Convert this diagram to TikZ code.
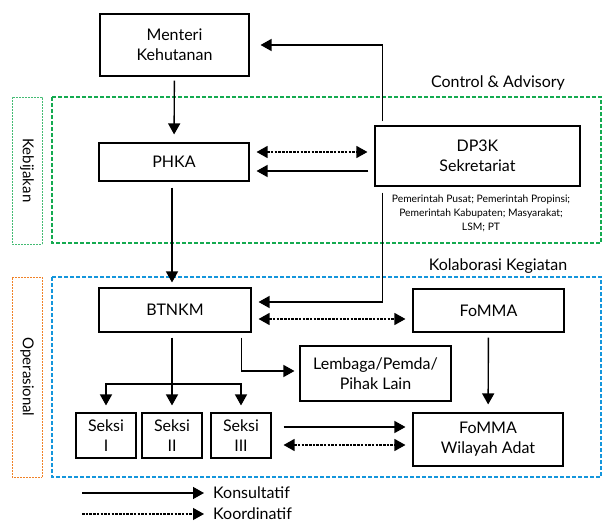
\documentclass[tikz,border=0pt]{standalone}
\usepackage{fontspec}
\setmainfont{Lato}
\usepackage{xcolor}
\usetikzlibrary{arrows.meta}
\definecolor{kebijakangreen}{RGB}{20,170,80}
\definecolor{kolabblue}{RGB}{20,150,220}
\definecolor{operorange}{RGB}{240,130,40}
\tikzset{
  font=\fontsize{16}{20}\selectfont,          % main box text
  unit/.style             = {rectangle, draw, line width=1.1pt, align=center,
                             inner sep=2pt},
  seksi/.style            = {unit, minimum width=60pt, minimum height=45pt},
  tag/.style              = {draw, rotate=-90, line width=0.9pt,
                             dash pattern=on 2pt off 1pt,
                             minimum height=30pt, inner sep=0pt},
  konsul/.style           = {line width=1.4pt,
                             -{Triangle[length=11pt,width=12pt]},
                             shorten >=7pt, shorten <=6pt},
  koord/.style            = {line width=1.2pt, dash pattern=on 2.5pt off 1.2pt,
                             {Triangle[length=11pt,width=12pt]}-{Triangle[length=11pt,width=12pt]},
                             shorten >=7pt, shorten <=7pt}
}

\begin{document}
\begin{tikzpicture}[x=1pt, y=-1pt]
  \useasboundingbox (0,0) rectangle (603,524);
  % areas
  \draw[kebijakangreen, line width=1.2pt, dash pattern=on 4pt off 2pt]
    (52,97) rectangle (601,243);
  \draw[kolabblue, line width=1.2pt, dash pattern=on 4pt off 2pt]
    (52,277) rectangle (601,477);
  \node (control) at (498,83) {Control \& Advisory};
  \node (kolab) at (498,266) {Kolaborasi Kegiatan};
  \node[tag, draw=kebijakangreen!80, minimum width=147pt,
        font=\fontsize{15}{18}\selectfont] (kebijakan) at (27,170.5) {Kebijakan};
  \node[tag, draw=operorange, minimum width=200pt,
        font=\fontsize{15}{18}\selectfont] (operasional) at (27,377) {Operasional};

  % units
  \node[unit, minimum width=149pt, minimum height=62pt] (menteri) at (174.5,45) {Menteri\\Kehutanan};
  \node[unit, minimum width=150pt, minimum height=38pt] (phka) at (174,162) {PHKA};
  \node[unit, minimum width=205pt, minimum height=60pt] (dp3k) at (477.5,156) {DP3K\\Sekretariat};
  \node[font=\fontsize{10.3}{14}\selectfont, align=center] (anggota) at (481,213)
    {Pemerintah Pusat; Pemerintah Propinsi;\\Pemerintah Kabupaten; Masyarakat;\\LSM; PT};
  \node[unit, minimum width=152pt, minimum height=44pt] (btnkm) at (175,310) {BTNKM};
  \node[unit, minimum width=151pt, minimum height=43pt] (fomma) at (488.5,310.5) {FoMMA};
  \node[unit, minimum width=151pt, minimum height=55pt] (lembaga) at (375.5,373.5) {Lembaga/Pemda/\\Pihak Lain};
  \node[seksi] (seksi1) at (106,435.5) {Seksi\\I};
  \node[seksi] (seksi2) at (172,435.5) {Seksi\\II};
  \node[seksi] (seksi3) at (241,435.5) {Seksi\\III};
  \node[unit, minimum width=150pt, minimum height=53pt] (fommawa) at (488,439.5) {FoMMA\\Wilayah Adat};
  \coordinate (fork) at (172,384);

  % connectors
  \draw[konsul, shorten <=4pt, shorten >=8pt] (menteri) -- (phka);
  \draw[konsul, shorten <=4pt, shorten >=11pt] ([xshift=8pt]dp3k.north west) |- (menteri);
  \draw[koord] ([yshift=10pt]phka.east) -- ([yshift=4pt]dp3k.west);
  \draw[konsul] ([yshift=-15pt]dp3k.west) -- ([yshift=-9pt]phka.east);
  \draw[konsul] ([xshift=8pt]dp3k.south west) |- ([yshift=8pt]btnkm.east);
  \draw[konsul, shorten >=5pt] (phka.south -| fork) -- (btnkm.north -| fork);
  \draw[koord] ([yshift=-9pt]btnkm.east) -- ([yshift=-8.5pt]fomma.west);
  \draw[konsul, shorten <=5pt] (btnkm.south -| seksi2) -- (seksi2);
  \draw[konsul, shorten <=0pt] (fork) -| (seksi1);
  \draw[konsul, shorten <=0pt] (fork) -| (seksi3);
  \draw[konsul, shorten <=5pt, shorten >=5pt] ([xshift=-10pt]btnkm.south east) |- ([yshift=2.5pt]lembaga.west);
  \draw[konsul, shorten <=5pt, shorten >=8pt] (fomma) -- (fommawa);
  \draw[konsul, shorten <=12pt] ([yshift=8.5pt]seksi3.east) -- ([yshift=12.5pt]fommawa.west);
  \draw[koord, shorten <=12pt] ([yshift=-9.5pt]seksi3.east) -- ([yshift=-5.5pt]fommawa.west);

  % legend
  \coordinate (konsulstart) at (82,493);
  \coordinate (koordstart) at (82,514);
  \node[anchor=west, inner sep=3pt] (konsultatif) at (210,493) {Konsultatif};
  \node[anchor=west, inner sep=3pt] (koordinatif) at (210,514) {Koordinatif};
  \draw[konsul, shorten <=0pt, shorten >=6pt] (konsulstart) -- (konsultatif);
  \draw[koord, {-Triangle[length=11pt,width=12pt]}, shorten <=0pt, shorten >=6pt] (koordstart) -- (koordinatif);
\end{tikzpicture}
\end{document}
